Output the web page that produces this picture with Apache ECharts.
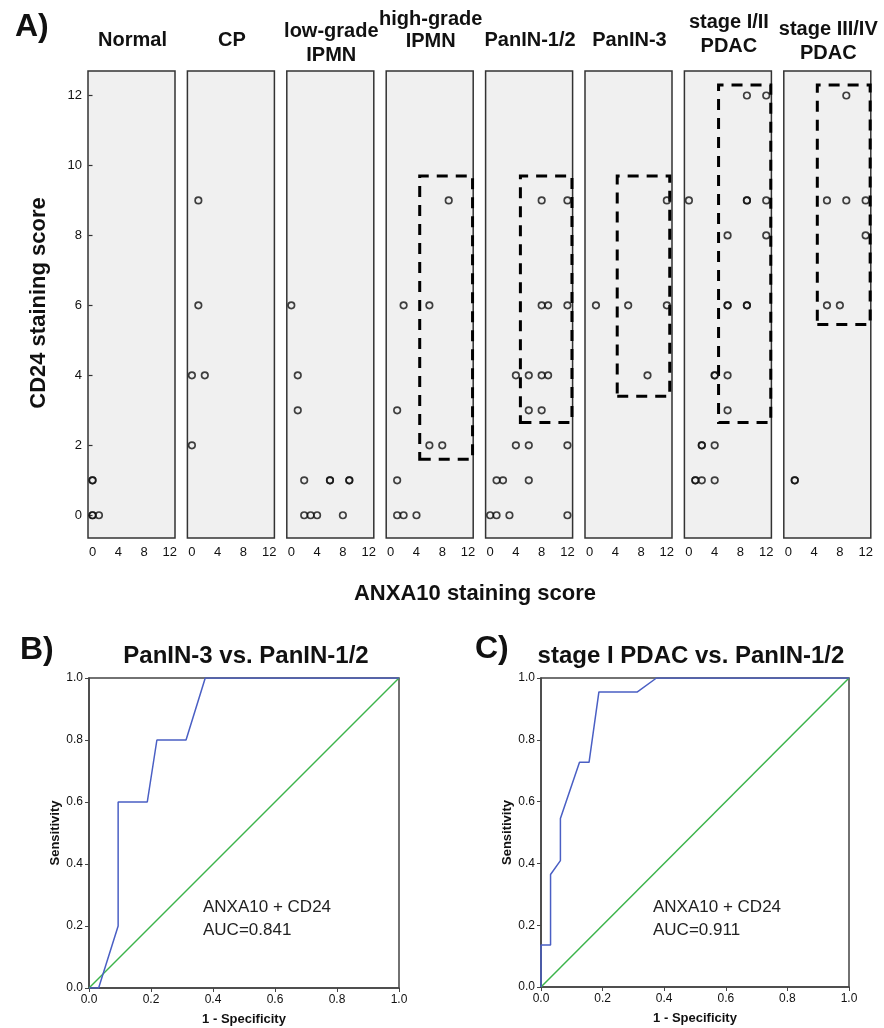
<!DOCTYPE html>
<html>
<head>
<meta charset="utf-8">
<script src="https://cdn.jsdelivr.net/npm/echarts@6/dist/echarts.min.js"></script>
<style>
  html, body { margin: 0; padding: 0; background: #fff; }
  #main { width: 884px; height: 1028px; }
</style>
</head>
<body>
<div id="main"></div>
<script>
// ---- data ----
const groupNames = ['Normal', 'CP', 'low-grade\nIPMN', 'high-grade\nIPMN', 'PanIN-1/2', 'PanIN-3', 'stage I/II\nPDAC', 'stage III/IV\nPDAC'];

// [ANXA10, CD24] per case (overlapping cases repeated)
const normalPts = [[0, 1], [0, 1], [0, 0], [0, 0], [1, 0]];
const cpPts = [[1, 9], [1, 6], [0, 4], [2, 4], [0, 2]];
const lowIpmnPts = [[0, 6], [1, 4], [1, 3], [2, 1], [6, 1], [6, 1], [9, 1], [9, 1], [2, 0], [3, 0], [4, 0], [8, 0]];
const highIpmnPts = [[9, 9], [2, 6], [6, 6], [1, 3], [6, 2], [8, 2], [1, 1], [1, 0], [2, 0], [4, 0]];
const panin12Pts = [[8, 9], [12, 9], [8, 6], [9, 6], [12, 6], [4, 4], [6, 4], [8, 4], [9, 4], [6, 3], [8, 3],
  [4, 2], [6, 2], [12, 2], [1, 1], [2, 1], [6, 1], [0, 0], [1, 0], [3, 0], [12, 0]];
const panin3Pts = [[12, 9], [1, 6], [6, 6], [12, 6], [9, 4]];
const pdac12Pts = [[9, 12], [12, 12], [0, 9], [9, 9], [9, 9], [12, 9], [6, 8], [12, 8], [6, 6], [6, 6], [9, 6], [9, 6],
  [4, 4], [4, 4], [6, 4], [6, 3], [2, 2], [2, 2], [4, 2], [1, 1], [1, 1], [2, 1], [4, 1]];
const pdac34Pts = [[9, 12], [6, 9], [9, 9], [12, 9], [12, 8], [6, 6], [8, 6], [1, 1], [1, 1]];

// dashed cut-off boxes [x1, y1, x2, y2]
const cutoffBoxes = [null, null, null, [4.5, 1.6, 12.7, 9.7], [4.7, 2.65, 12.7, 9.7], [4.3, 3.4, 12.45, 9.7],
  [4.6, 2.65, 12.7, 12.3], [4.5, 5.45, 12.7, 12.3]];

const xTicksA = [0, 4, 8, 12];
const yTicksA = [0, 2, 4, 6, 8, 10, 12];

// ROC curves [1 - specificity, sensitivity]
const rocB = [[0, 0], [0.031, 0], [0.094, 0.2], [0.094, 0.6], [0.188, 0.6], [0.219, 0.8], [0.313, 0.8], [0.375, 1], [1, 1]];
const rocC = [[0, 0], [0, 0.136], [0.031, 0.136], [0.031, 0.364], [0.063, 0.409], [0.063, 0.545], [0.125, 0.727],
  [0.156, 0.727], [0.188, 0.955], [0.313, 0.955], [0.375, 1], [1, 1]];
const chanceLine = [[0, 0], [1, 1]];
const rocTitles = ['PanIN-3 vs. PanIN-1/2', 'stage I PDAC vs. PanIN-1/2'];
const rocText = ['ANXA10 + CD24\nAUC=0.841', 'ANXA10 + CD24\nAUC=0.911'];

const groupPts = [normalPts, cpPts, lowIpmnPts, highIpmnPts, panin12Pts, panin3Pts, pdac12Pts, pdac34Pts];

// ---- layout ----
const FF = '"Liberation Sans", Arial, sans-serif';
var chartDom = document.getElementById('main');
var myChart = echarts.init(chartDom);

var grids = [], xAxes = [], yAxes = [], series = [], graphics = [];

// panel titles: [centre y, line height]
const titlePos = [[40, 0], [40, 0], [43, 24], [30, 22], [40, 0], [40, 0], [34, 24], [41, 24]];

for (let i = 0; i < groupNames.length; i++) {
  const left = 88 + i * 99.4;
  grids.push({ left: left, top: 71, width: 87, height: 467, show: true,
    backgroundColor: '#f0f0f0', borderColor: '#333', borderWidth: 1.5 });
  xAxes.push({ type: 'value', gridIndex: i, min: -0.7, max: 12.8,
    axisLine: { show: false }, axisTick: { show: false }, splitLine: { show: false },
    axisLabel: { customValues: xTicksA, fontSize: 13, color: '#111', fontFamily: FF, margin: 8 } });
  yAxes.push({ type: 'value', gridIndex: i, min: -0.65, max: 12.7,
    axisLine: { show: false }, splitLine: { show: false },
    axisTick: { show: i === 0, customValues: yTicksA, length: 4, lineStyle: { color: '#333', width: 1.2 } },
    axisLabel: { show: i === 0, customValues: yTicksA, fontSize: 13, color: '#111', fontFamily: FF, margin: 6 } });
  const box = cutoffBoxes[i];
  series.push({
    type: 'scatter', xAxisIndex: i, yAxisIndex: i, data: groupPts[i],
    symbol: 'circle', symbolSize: 6.5,
    itemStyle: { color: 'transparent', borderColor: '#111', borderWidth: 1.7 },
    markArea: box ? {
      silent: true, label: { show: false },
      itemStyle: { color: 'transparent', borderColor: '#000', borderWidth: 3, borderType: [11, 8] },
      data: [[{ coord: [box[0], box[1]] }, { coord: [box[2], box[3]] }]]
    } : undefined
  });
  graphics.push({ type: 'text', x: left + 43.5 + 1, y: titlePos[i][0],
    style: { text: groupNames[i], font: 'bold 20px ' + FF, fill: '#111', align: 'center',
      verticalAlign: 'middle', lineHeight: titlePos[i][1] || 22 } });
}

// ROC panels
const rocGrids = [{ left: 89, top: 678, width: 310, height: 310 }, { left: 541, top: 678, width: 308, height: 309 }];
const rocData = [rocB, rocC];
for (let k = 0; k < 2; k++) {
  const gi = groupNames.length + k;
  grids.push(Object.assign({ show: true, borderColor: '#444', borderWidth: 1.5 }, rocGrids[k]));
  xAxes.push({ type: 'value', gridIndex: gi, min: 0, max: 1, interval: 0.2,
    name: '1 - Specificity', nameLocation: 'middle', nameGap: 25,
    nameTextStyle: { fontWeight: 'bold', fontSize: 13, color: '#111', fontFamily: FF },
    axisLine: { lineStyle: { color: '#444', width: 1.5 } },
    axisTick: { length: 4, lineStyle: { color: '#444' } }, splitLine: { show: false },
    axisLabel: { fontSize: 12, color: '#111', fontFamily: FF, margin: 6, formatter: v => v.toFixed(1) } });
  yAxes.push({ type: 'value', gridIndex: gi, min: 0, max: 1, interval: 0.2,
    name: 'Sensitivity', nameLocation: 'middle', nameGap: 27, nameRotate: 90,
    nameTextStyle: { fontWeight: 'bold', fontSize: 13, color: '#111', fontFamily: FF },
    axisLine: { lineStyle: { color: '#444', width: 1.5 } },
    axisTick: { length: 4, lineStyle: { color: '#444' } }, splitLine: { show: false },
    axisLabel: { fontSize: 12, color: '#111', fontFamily: FF, margin: 6, formatter: v => v.toFixed(1) } });
  series.push({ type: 'line', xAxisIndex: gi, yAxisIndex: gi, data: chanceLine, symbol: 'none',
    lineStyle: { color: '#3cb44b', width: 1.5 }, animation: false });
  series.push({ type: 'line', xAxisIndex: gi, yAxisIndex: gi, data: rocData[k], symbol: 'none',
    lineStyle: { color: '#4a5fc4', width: 1.5 }, animation: false });
  const g = rocGrids[k];
  graphics.push({ type: 'text', x: g.left + g.width / 2 + (k === 0 ? 2 : -4), y: 656,
    style: { text: rocTitles[k], font: 'bold 24px ' + FF, fill: '#111', align: 'center', verticalAlign: 'middle' } });
  graphics.push({ type: 'text', x: g.left + 114 + (k === 0 ? 0 : -2), y: 919,
    style: { text: rocText[k], font: '17px ' + FF, fill: '#222', align: 'left', verticalAlign: 'middle', lineHeight: 23 } });
}

// panel letters and shared axis titles
graphics.push({ type: 'text', x: 15, y: 27, style: { text: 'A)', font: 'bold 32px ' + FF, fill: '#111', verticalAlign: 'middle' } });
graphics.push({ type: 'text', x: 20, y: 650, style: { text: 'B)', font: 'bold 32px ' + FF, fill: '#111', verticalAlign: 'middle' } });
graphics.push({ type: 'text', x: 475, y: 649, style: { text: 'C)', font: 'bold 32px ' + FF, fill: '#111', verticalAlign: 'middle' } });
graphics.push({ type: 'text', x: 475, y: 594, style: { text: 'ANXA10 staining score', font: 'bold 22px ' + FF,
  fill: '#111', align: 'center', verticalAlign: 'middle' } });
graphics.push({ type: 'text', x: 39, y: 303, rotation: Math.PI / 2, style: { text: 'CD24 staining score',
  font: 'bold 22px ' + FF, fill: '#111', align: 'center', verticalAlign: 'middle' } });

var option = {
  animation: false,
  backgroundColor: '#fff',
  grid: grids,
  xAxis: xAxes,
  yAxis: yAxes,
  series: series,
  graphic: graphics
};
myChart.setOption(option);
</script>
</body>
</html>
